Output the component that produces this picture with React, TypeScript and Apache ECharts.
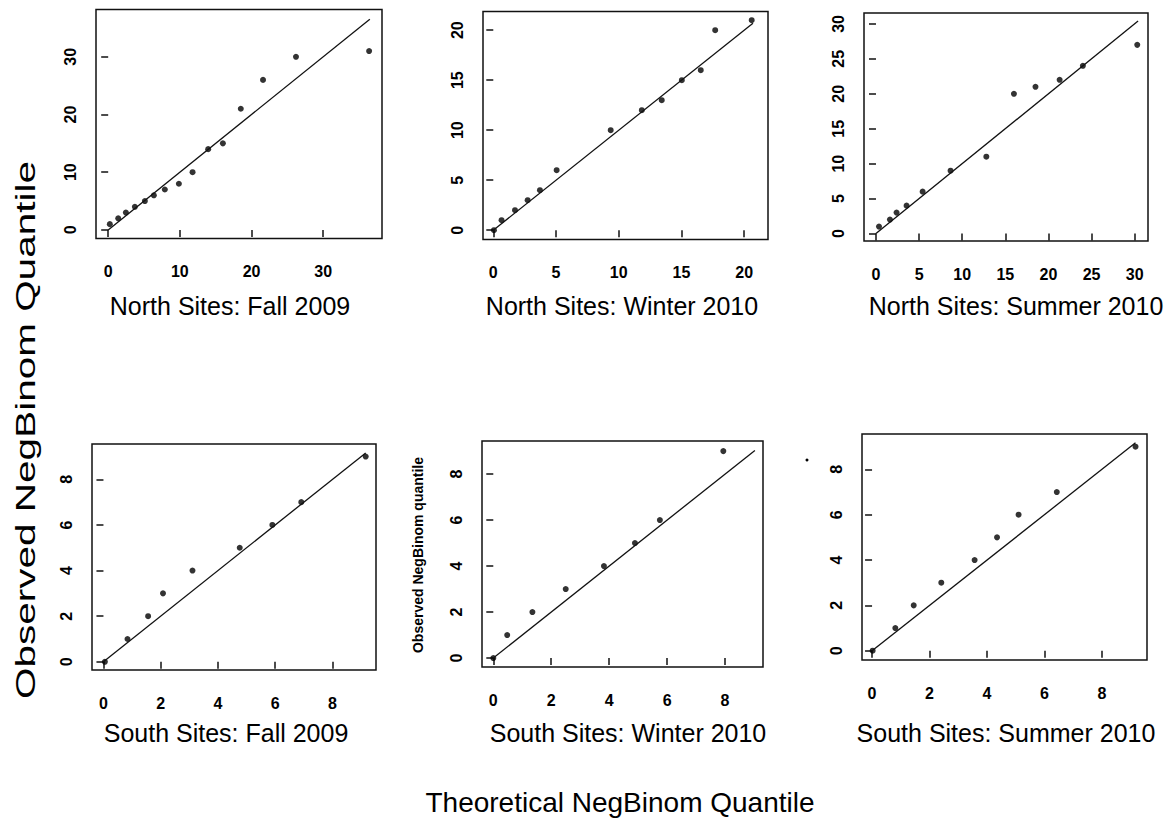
import React, { useEffect, useRef } from "react";
import * as echarts from "echarts";

// ---- Data ----
const titles = [
  "North Sites: Fall 2009",
  "North Sites: Winter 2010",
  "North Sites: Summer 2010",
  "South Sites: Fall 2009",
  "South Sites: Winter 2010",
  "South Sites: Summer 2010",
];

const nFallX = [0.23, 1.4, 2.47, 3.72, 5.12, 6.37, 7.9, 9.86, 11.77, 13.95, 16.0, 18.5, 21.6, 26.2, 36.4];
const nFallY = [1, 2, 3, 4, 5, 6, 7, 8, 10, 14, 15, 21, 26, 30, 31];

const nWinterX = [0.05, 0.66, 1.73, 2.74, 3.72, 5.05, 9.36, 11.84, 13.43, 15.03, 16.54, 17.69, 20.6];
const nWinterY = [0, 1, 2, 3, 4, 6, 10, 12, 13, 15, 16, 20, 21];

const nSummerX = [0.35, 1.62, 2.39, 3.55, 5.41, 8.65, 12.8, 16.0, 18.5, 21.3, 24.0, 30.3];
const nSummerY = [1, 2, 3, 4, 6, 9, 11, 20, 21, 22, 24, 27];

const sFallX = [0.05, 0.84, 1.56, 2.08, 3.11, 4.76, 5.9, 6.91, 9.16];
const sFallY = [0, 1, 2, 3, 4, 5, 6, 7, 9];

const sWinterX = [0, 0.48, 1.35, 2.5, 3.82, 4.89, 5.75, 7.94];
const sWinterY = [0, 1, 2, 3, 4, 5, 6, 9];

const sSummerX = [0.02, 0.81, 1.45, 2.41, 3.57, 4.35, 5.1, 6.43, 9.17];
const sSummerY = [0, 1, 2, 3, 4, 5, 6, 7, 9];

// end of the 1:1 reference line in each panel
const lineEnds = [36.5, 20.7, 30.4, 9.16, 9.03, 9.17];

// axis ranges (R-style 4% padding)
const xMins = [-1.7, -0.82, -1.39, -0.4, -0.39, -0.35];
const xMaxs = [38.2, 21.9, 31.55, 9.52, 9.31, 9.57];
const yMins = [-1.49, -0.93, -1.06, -0.36, -0.39, -0.41];
const yMaxs = [38.2, 21.87, 31.56, 9.55, 9.44, 9.56];

// tick labels
const xTicks = [
  [0, 10, 20, 30],
  [0, 5, 10, 15, 20],
  [0, 5, 10, 15, 20, 25, 30],
  [0, 2, 4, 6, 8],
  [0, 2, 4, 6, 8],
  [0, 2, 4, 6, 8],
];
const yTicks = [
  [0, 10, 20, 30],
  [0, 5, 10, 15, 20],
  [0, 5, 10, 15, 20, 25, 30],
  [0, 2, 4, 6, 8],
  [0, 2, 4, 6, 8],
  [0, 2, 4, 6, 8],
];

const xLabelText = "Theoretical NegBinom Quantile";
const yLabelText = "Observed NegBinom Quantile";
const innerYLabelText = "Observed NegBinom quantile";

// ---- Layout ----
const gridBoxes = [
  { left: 96, top: 9.5, width: 286, height: 229 },
  { left: 483, top: 11.5, width: 285, height: 228 },
  { left: 864, top: 13, width: 284, height: 228 },
  { left: 92, top: 444, width: 284, height: 226 },
  { left: 482, top: 441, width: 281, height: 226 },
  { left: 862, top: 434, width: 285, height: 226 },
];
const titlePos = [
  [230, 306],
  [622, 306],
  [1016, 306],
  [226, 733],
  [628, 733],
  [1006, 733],
];

const allX = [nFallX, nWinterX, nSummerX, sFallX, sWinterX, sSummerX];
const allY = [nFallY, nWinterY, nSummerY, sFallY, sWinterY, sSummerY];

const tickFont = "'Liberation Sans Narrow', 'Arial Narrow', 'Liberation Sans', Arial, sans-serif";
const textFont = "'Liberation Sans', Arial, Helvetica, sans-serif";

export default function App() {
  const ref = useRef<HTMLDivElement>(null);

  useEffect(() => {
    if (!ref.current) return;
    const chart = echarts.init(ref.current, null, { renderer: "svg" });

    const grids = gridBoxes.map((g) => ({
      ...g,
      show: true,
      borderColor: "#111",
      borderWidth: 1.5,
      backgroundColor: "transparent",
      containLabel: false,
    }));

    const xAxes = gridBoxes.map((_, i) => ({
      type: "value",
      gridIndex: i,
      min: xMins[i],
      max: xMaxs[i],
      axisLine: { show: false },
      splitLine: { show: false },
      axisTick: {
        show: true,
        length: 7,
        customValues: xTicks[i],
        lineStyle: { color: "#111", width: 1.5 },
      },
      axisLabel: {
        show: true,
        customValues: xTicks[i],
        margin: 25,
        color: "#000",
        fontFamily: tickFont,
        fontWeight: "bold",
        fontSize: 16,
      },
    }));

    const yAxes = gridBoxes.map((_, i) => ({
      type: "value",
      gridIndex: i,
      min: yMins[i],
      max: yMaxs[i],
      axisLine: { show: false },
      splitLine: { show: false },
      axisTick: {
        show: true,
        length: 7,
        customValues: yTicks[i],
        lineStyle: { color: "#111", width: 1.5 },
      },
      axisLabel: {
        show: true,
        customValues: yTicks[i],
        rotate: 90,
        margin: 18,
        color: "#000",
        fontFamily: tickFont,
        fontWeight: "bold",
        fontSize: 16,
      },
    }));

    const series: any[] = [];
    allX.forEach((xs, i) => {
      series.push({
        type: "line",
        xAxisIndex: i,
        yAxisIndex: i,
        data: [
          [0, 0],
          [lineEnds[i], lineEnds[i]],
        ],
        showSymbol: false,
        lineStyle: { color: "#111", width: 1.3 },
        silent: true,
      });
      series.push({
        type: "scatter",
        xAxisIndex: i,
        yAxisIndex: i,
        data: xs.map((x, k) => [x, allY[i][k]]),
        symbol: "circle",
        symbolSize: 6,
        itemStyle: { color: "#000" },
        silent: true,
      });
    });

    const graphics: any[] = titles.map((t, i) => ({
      type: "text",
      x: titlePos[i][0],
      y: titlePos[i][1],
      style: {
        text: t,
        font: `25px ${textFont}`,
        fill: "#000",
        textAlign: "center",
        textVerticalAlign: "middle",
      },
    }));
    graphics.push({
      type: "text",
      x: 620,
      y: 802,
      style: {
        text: xLabelText,
        font: `28px ${textFont}`,
        fill: "#000",
        textAlign: "center",
        textVerticalAlign: "middle",
      },
    });
    graphics.push({
      type: "text",
      x: 26,
      y: 430,
      rotation: Math.PI / 2,
      scaleX: 1.5,
      style: {
        text: yLabelText,
        font: `27px ${textFont}`,
        fill: "#000",
        textAlign: "center",
        textVerticalAlign: "middle",
      },
    });
    graphics.push({
      type: "text",
      x: 418,
      y: 555,
      rotation: Math.PI / 2,
      style: {
        text: innerYLabelText,
        font: `bold 14px ${textFont}`,
        fill: "#000",
        textAlign: "center",
        textVerticalAlign: "middle",
      },
    });
    graphics.push({
      type: "circle",
      shape: { cx: 807, cy: 460, r: 1.5 },
      style: { fill: "#000" },
    });

    chart.setOption({
      animation: false,
      backgroundColor: "#fff",
      grid: grids,
      xAxis: xAxes,
      yAxis: yAxes,
      series,
      graphic: graphics,
    });

    return () => chart.dispose();
  }, []);

  return (
    <div
      ref={ref}
      style={{ position: "fixed", left: 0, top: 0, width: 1166, height: 820 }}
    />
  );
}
